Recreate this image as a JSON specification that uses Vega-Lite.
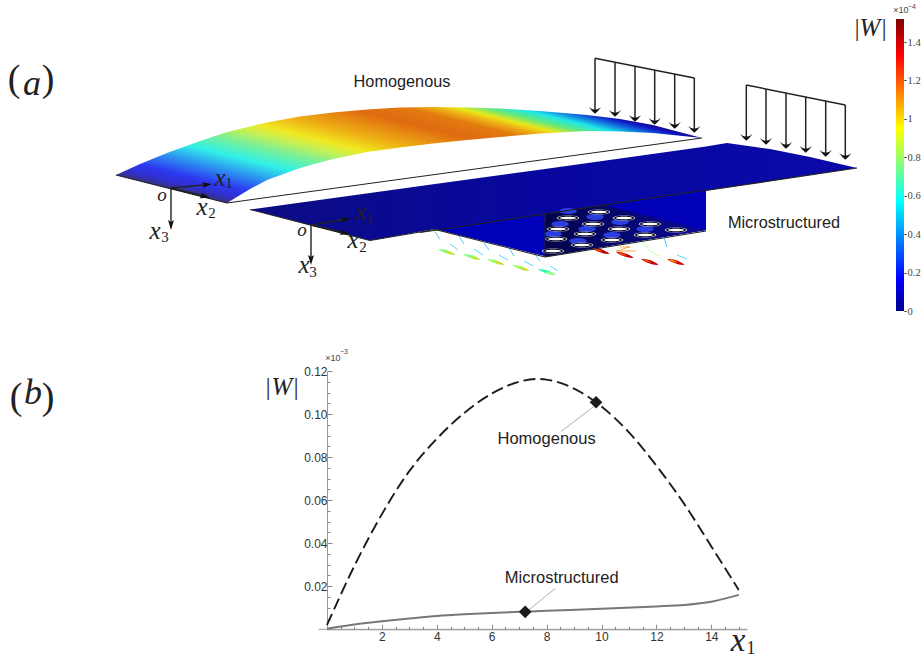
{
"$schema":"https://vega.github.io/schema/vega-lite/v6.json",
"width":921,"height":659,"padding":0,"autosize":{"type":"none"},"background":"white",
"config":{"view":{"stroke":null},"axis":{"grid":false},"text":{"font":"Liberation Sans"}},
"datasets":{
"homog":[{"x":116,"y":175,"y2":175},{"x":140,"y":164,"y2":181},{"x":167,"y":153,"y2":188},{"x":200,"y":141,"y2":196},{"x":227,"y":132,"y2":203},{"x":250,"y":126.5,"y2":189},{"x":267,"y":122.5,"y2":180},{"x":300,"y":116.5,"y2":168},{"x":333,"y":112.5,"y2":159},{"x":367,"y":109.5,"y2":152},{"x":400,"y":107.5,"y2":147.5},{"x":433,"y":107,"y2":143.5},{"x":467,"y":107.5,"y2":140},{"x":500,"y":108.5,"y2":137},{"x":540,"y":111,"y2":133.5},{"x":587,"y":115,"y2":131},{"x":620,"y":119,"y2":131.5},{"x":653,"y":125,"y2":133},{"x":702,"y":138,"y2":138}],
"micro":[{"x":250,"y":209.5,"y2":209.5},{"x":370,"y":193,"y2":240.5},{"x":435,"y":184,"y2":229},{"x":545,"y":169,"y2":256},{"x":706,"y":146.5,"y2":230},{"x":706.01,"y":146.5,"y2":190.5},{"x":727,"y":143,"y2":187.5},{"x":770,"y":149,"y2":181},{"x":810,"y":157,"y2":175},{"x":857,"y":168,"y2":168}],
"front":[{"x":435,"y":229,"y2":229},{"x":545,"y":213,"y2":256},{"x":706,"y":190,"y2":230}],
"cavity":[{"x":545,"y":214,"y2":257},{"x":603,"y":205,"y2":247},{"x":706,"y":230,"y2":230}],
"holesWhite":[{"x":599,"y":212},{"x":624,"y":218},{"x":650,"y":224},{"x":676,"y":230},{"x":568,"y":218},{"x":593,"y":224},{"x":619,"y":229},{"x":645,"y":235},{"x":558,"y":229},{"x":585,"y":234},{"x":612,"y":240},{"x":556,"y":239},{"x":582,"y":245},{"x":553,"y":251}],
"holesBlue":[{"x":568,"y":211},{"x":595,"y":217},{"x":620,"y":222},{"x":645,"y":229},{"x":560,"y":224},{"x":587,"y":229},{"x":612,"y":235},{"x":553,"y":234},{"x":578,"y":241}],
"drops":[{"x":447,"y":252,"w":0.78},{"x":472,"y":257,"w":0.78},{"x":496,"y":262,"w":0.8},{"x":521,"y":268,"w":0.8},{"x":547,"y":272,"w":0.7},{"x":601,"y":251,"w":1.35},{"x":625,"y":255,"w":1.35},{"x":650,"y":262,"w":1.35},{"x":676,"y":262,"w":1.3}],
"dropTips":[{"x":450,"y":253,"w":0.98},{"x":475,"y":258,"w":0.98},{"x":499,"y":263,"w":1},{"x":524,"y":269,"w":1},{"x":550,"y":273,"w":0.85},{"x":598,"y":250,"w":1.15},{"x":622,"y":254,"w":1.15},{"x":647,"y":261,"w":1.15},{"x":673,"y":261,"w":1.05}],
"curves":[{"id":"c1","w":0.45,"x":435,"y":231.7},{"id":"c1","w":0.45,"x":440,"y":239.3},{"id":"c1","w":0.5,"x":450,"y":244},{"id":"c1","w":0.5,"x":458,"y":250},{"id":"c2","w":0.45,"x":459,"y":236},{"id":"c2","w":0.45,"x":464,"y":244},{"id":"c2","w":0.5,"x":474,"y":249},{"id":"c2","w":0.5,"x":483,"y":255},{"id":"c3","w":0.45,"x":484,"y":243},{"id":"c3","w":0.45,"x":489,"y":250},{"id":"c3","w":0.5,"x":499,"y":255},{"id":"c3","w":0.5,"x":508,"y":260},{"id":"c4","w":0.45,"x":509,"y":248},{"id":"c4","w":0.45,"x":514,"y":256},{"id":"c4","w":0.5,"x":524,"y":261},{"id":"c4","w":0.5,"x":533,"y":266},{"id":"c5","w":0.45,"x":535,"y":254},{"id":"c5","w":0.45,"x":540,"y":261},{"id":"c5","w":0.5,"x":550,"y":266},{"id":"c5","w":0.5,"x":558,"y":271},{"id":"c6","w":0.45,"x":664,"y":238},{"id":"c6","w":0.45,"x":667,"y":247},{"id":"c6","w":0.5,"x":677,"y":255},{"id":"c6","w":0.5,"x":687,"y":259},{"id":"c7","w":0.8,"x":642,"y":242},{"id":"c7","w":0.8,"x":647,"y":248},{"id":"c7","w":0.8,"x":660,"y":256},{"id":"c8","w":1.1,"x":616,"y":251},{"id":"c8","w":1.1,"x":620,"y":247},{"id":"c8","w":1.1,"x":630,"y":247},{"id":"c8","w":1.1,"x":636,"y":251}],
"edges":[{"x":227,"y":203,"x2":702,"y2":138},{"x":116,"y":175,"x2":227,"y2":203},{"x":250,"y":209.5,"x2":370,"y2":240.5},{"x":706,"y":190.5,"x2":857,"y2":168},{"x":420,"y":232.5,"x2":706,"y2":190},{"x":370,"y":240.5,"x2":435,"y2":229.5},{"x":435,"y":229.5,"x2":545,"y2":257},{"x":545,"y":257,"x2":706,"y2":231},{"x":545,"y":214,"x2":545,"y2":257}],
"shafts":[{"x":595,"y":58.3,"x2":595,"y2":110},{"x":615,"y":62.3,"x2":615,"y2":113},{"x":635,"y":66,"x2":635,"y2":118},{"x":654.7,"y":70,"x2":654.7,"y2":121},{"x":674.7,"y":74,"x2":674.7,"y2":125},{"x":694.3,"y":78,"x2":694.3,"y2":129},{"x":595,"y":58.3,"x2":694.3,"y2":78},{"x":746.3,"y":85,"x2":746.3,"y2":137},{"x":766,"y":89,"x2":766,"y2":141},{"x":786,"y":93,"x2":786,"y2":145},{"x":805.7,"y":97,"x2":805.7,"y2":149},{"x":825.7,"y":101,"x2":825.7,"y2":153},{"x":845.3,"y":105,"x2":845.3,"y2":156},{"x":746.3,"y":85,"x2":845.3,"y2":105}],
"heads":[{"x":595,"y":110},{"x":615,"y":113},{"x":635,"y":118},{"x":654.7,"y":121},{"x":674.7,"y":125},{"x":694.3,"y":129},{"x":746.3,"y":137},{"x":766,"y":141},{"x":786,"y":145},{"x":805.7,"y":149},{"x":825.7,"y":153},{"x":845.3,"y":156}],
"axes3":[{"x":171,"y":188,"x2":208,"y2":184.5},{"x":171,"y":188,"x2":207,"y2":197},{"x":171,"y":188,"x2":171,"y2":225},{"x":311,"y":225,"x2":347,"y2":219},{"x":311,"y":225,"x2":346,"y2":233},{"x":311,"y":225,"x2":311,"y2":260}],
"headsX1":[{"x":207,"y":184.5},{"x":346,"y":219}],
"headsX2":[{"x":205,"y":196.5},{"x":345,"y":233}],
"headsX3":[{"x":171,"y":225},{"x":311,"y":260}],
"italicBig":[{"t":"a","x":32,"y":84},{"t":"b","x":33,"y":393}],
"uprightBig":[{"t":"(","x":14,"y":80},{"t":")","x":48,"y":80},{"t":"(","x":16,"y":398},{"t":")","x":48,"y":398}],
"italicMid":[{"t":"x","x":220,"y":178},{"t":"x","x":202,"y":207},{"t":"x","x":155,"y":231},{"t":"x","x":361,"y":212},{"t":"x","x":353,"y":240},{"t":"x","x":304,"y":265},{"t":"W","x":282,"y":387},{"t":"W","x":870,"y":28}],
"italicAxis":[{"t":"x","x":738,"y":641}],
"subAxis":[{"t":"1","x":751,"y":649}],
"italicSmall":[{"t":"o","x":162,"y":195},{"t":"o","x":302,"y":230}],
"subs":[{"t":"1","x":229,"y":183},{"t":"2","x":212,"y":213},{"t":"3","x":165,"y":237},{"t":"1","x":370,"y":218},{"t":"2","x":363,"y":247},{"t":"3","x":313,"y":272}],
"bars":[{"t":"|","x":268,"y":387},{"t":"|","x":296,"y":387},{"t":"|","x":857,"y":28},{"t":"|","x":884,"y":28}],
"labels":[{"t":"Homogenous","x":402,"y":82},{"t":"Microstructured","x":784,"y":223}],
"scale10":[{"t":"×10","x":333,"y":358},{"t":"×10","x":901,"y":10}],
"scaleExp":[{"t":"−3","x":344,"y":352},{"t":"−4","x":912,"y":7}],
"bar":[{"a":0,"b":1,"lo":0,"hi":1.52}],
"curveH":[{"x":0,"y":0.002},{"x":1,"y":0.0295},{"x":2,"y":0.0535},{"x":3,"y":0.0735},{"x":4,"y":0.0885},{"x":5,"y":0.1005},{"x":6,"y":0.1095},{"x":7,"y":0.115},{"x":7.65,"y":0.1163},{"x":8,"y":0.116},{"x":9,"y":0.1118},{"x":10,"y":0.1035},{"x":11,"y":0.0915},{"x":12,"y":0.076},{"x":13,"y":0.0585},{"x":14,"y":0.0385},{"x":15,"y":0.0183}],
"curveM":[{"x":0,"y":0.0003},{"x":1,"y":0.0022},{"x":2,"y":0.0037},{"x":3,"y":0.005},{"x":4,"y":0.0062},{"x":5,"y":0.007},{"x":6,"y":0.0076},{"x":7,"y":0.0081},{"x":8,"y":0.0086},{"x":10,"y":0.0095},{"x":12,"y":0.0106},{"x":13,"y":0.0113},{"x":14,"y":0.0128},{"x":15,"y":0.016}],
"diamonds":[{"x":9.8,"y":0.1055},{"x":7.22,"y":0.0081}],
"leaders":[{"x":9.71,"y":0.1034,"x2":8.52,"y2":0.0918},{"x":7.35,"y":0.009,"x2":8.32,"y2":0.019}],
"axisExt":[{"x":-0.3,"y":0,"x2":15.3,"y2":0}],
"chartLabels":[{"t":"Homogenous","x":8.0,"y":0.0884},{"t":"Microstructured","x":8.55,"y":0.0238}],
"dummy":[{"x":1,"y":0.01}]
},
"layer":[
{"encoding":{"x":{"field":"x","type":"quantitative","scale":{"domain":[0,921],"range":[0,921],"nice":false},"axis":null},"y":{"field":"y","type":"quantitative","scale":{"domain":[659,0],"range":[659,0],"nice":false,"zero":false},"axis":null}},
"layer":[
{"data":{"name":"homog"},"mark":{"type":"area","orient":"vertical","interpolate":"linear","fill":{"gradient":"linear","x1":0,"y1":0.71,"x2":0.878,"y2":0.134,"stops":[{"offset":0,"color":"#37307f"},{"offset":0.04,"color":"#3030d0"},{"offset":0.09,"color":"#2d38f0"},{"offset":0.17,"color":"#2c8cf0"},{"offset":0.26,"color":"#30f0e8"},{"offset":0.34,"color":"#70f0a0"},{"offset":0.42,"color":"#c8f050"},{"offset":0.47,"color":"#f0e820"},{"offset":0.55,"color":"#eeb015"},{"offset":0.68,"color":"#e06a10"},{"offset":0.76,"color":"#e27a10"},{"offset":0.8,"color":"#eeb015"},{"offset":0.83,"color":"#e8e818"},{"offset":0.87,"color":"#60e880"},{"offset":0.91,"color":"#20e8e8"},{"offset":0.95,"color":"#1070e0"},{"offset":0.985,"color":"#1010c0"},{"offset":1,"color":"#101090"}]}},"encoding":{"y2":{"field":"y2"}}},
{"data":{"name":"micro"},"mark":{"type":"area","orient":"vertical","interpolate":"linear","fill":{"gradient":"linear","x1":0,"y1":0,"x2":1,"y2":0,"stops":[{"offset":0,"color":"#0c0c84"},{"offset":0.5,"color":"#0707a0"},{"offset":1,"color":"#0a0aa8"}]}},"encoding":{"y2":{"field":"y2"}}},
{"data":{"name":"front"},"mark":{"type":"area","orient":"vertical","interpolate":"linear","fill":"#0000b8"},"encoding":{"y2":{"field":"y2"}}},
{"data":{"name":"cavity"},"mark":{"type":"area","orient":"vertical","interpolate":"linear","fill":{"gradient":"linear","x1":0,"y1":0,"x2":1,"y2":0,"stops":[{"offset":0,"color":"#03034a"},{"offset":1,"color":"#0a0a98"}]}},"encoding":{"y2":{"field":"y2"}}},
{"data":{"name":"holesBlue"},"mark":{"type":"point","filled":true,"color":"#2a3ee0","opacity":1,"shape":"M -1 0 C -1 -0.45 1 -0.45 1 0 C 1 0.45 -1 0.45 -1 0 Z","size":300}},
{"data":{"name":"holesWhite"},"mark":{"type":"point","filled":true,"fill":"#d8d8e4","opacity":1,"shape":"M -1 0 C -1 -0.3 1 -0.3 1 0 C 1 0.3 -1 0.3 -1 0 Z","size":500}},
{"data":{"name":"holesWhite"},"mark":{"type":"point","filled":true,"fill":"#0a0a20","opacity":1,"shape":"M -1 0 C -1 -0.3 1 -0.3 1 0 C 1 0.3 -1 0.3 -1 0 Z","size":400}},
{"data":{"name":"holesWhite"},"mark":{"type":"point","filled":true,"fill":"white","opacity":1,"shape":"M -1 0 C -1 -0.2 1 -0.2 1 0 C 1 0.2 -1 0.2 -1 0 Z","size":260}},
{"data":{"name":"curves"},"mark":{"type":"line","strokeWidth":0.9,"opacity":0.75,"interpolate":"monotone"},"encoding":{"order":{"field":"y"},"detail":{"field":"id"},"color":{"field":"w","type":"quantitative","legend":null,"scale":{"domain":[0,1.5],"range":["#00008f","#0000ff","#00ffff","#ffff00","#ff0000","#800000"]}}}},
{"data":{"name":"drops"},"mark":{"type":"point","filled":true,"opacity":1,"shape":"M -1 -0.32 C -0.4 -0.42 0.6 -0.02 1 0.32 C 0.4 0.42 -0.6 0.02 -1 -0.32 Z","size":300},"encoding":{"color":{"field":"w","type":"quantitative","legend":null}}},
{"data":{"name":"dropTips"},"mark":{"type":"point","filled":true,"opacity":1,"shape":"M -1 -0.32 C -0.4 -0.42 0.6 -0.02 1 0.32 C 0.4 0.42 -0.6 0.02 -1 -0.32 Z","size":90},"encoding":{"color":{"field":"w","type":"quantitative","legend":null}}},
{"data":{"name":"edges"},"mark":{"type":"rule","color":"#222","strokeWidth":1.1},"encoding":{"x2":{"field":"x2"},"y2":{"field":"y2"}}},
{"data":{"name":"shafts"},"mark":{"type":"rule","color":"#222","strokeWidth":1.5},"encoding":{"x2":{"field":"x2"},"y2":{"field":"y2"}}},
{"data":{"name":"heads"},"mark":{"type":"point","filled":true,"color":"#111","opacity":1,"shape":"M -1 -0.5 Q -0.6 0.1 0 0.6 Q 0.6 0.1 1 -0.5 Q 0.5 -0.05 0 -0.05 Q -0.5 -0.05 -1 -0.5 Z","size":150}},
{"data":{"name":"axes3"},"mark":{"type":"rule","color":"#222","strokeWidth":1.4},"encoding":{"x2":{"field":"x2"},"y2":{"field":"y2"}}},
{"data":{"name":"headsX1"},"mark":{"type":"point","filled":true,"color":"#111","opacity":1,"angle":-7,"shape":"M 1 0 L -1 -0.6 L -0.6 0 L -1 0.6 Z","size":100}},
{"data":{"name":"headsX2"},"mark":{"type":"point","filled":true,"color":"#111","opacity":1,"angle":14,"shape":"M 1 0 L -1 -0.6 L -0.6 0 L -1 0.6 Z","size":100}},
{"data":{"name":"headsX3"},"mark":{"type":"point","filled":true,"color":"#111","opacity":1,"angle":90,"shape":"M 1 0 L -1 -0.6 L -0.6 0 L -1 0.6 Z","size":100}},
{"data":{"name":"italicBig"},"mark":{"type":"text","font":"Liberation Serif","fontStyle":"italic","fontSize":36,"color":"#222","baseline":"middle"},"encoding":{"text":{"field":"t"}}},
{"data":{"name":"uprightBig"},"mark":{"type":"text","font":"Liberation Serif","fontSize":38,"fontWeight":300,"color":"#222","baseline":"middle"},"encoding":{"text":{"field":"t"}}},
{"data":{"name":"italicMid"},"mark":{"type":"text","font":"Liberation Serif","fontStyle":"italic","fontSize":25,"color":"#222","baseline":"middle"},"encoding":{"text":{"field":"t"}}},
{"data":{"name":"italicAxis"},"mark":{"type":"text","font":"Liberation Serif","fontStyle":"italic","fontSize":33,"color":"#222","baseline":"middle"},"encoding":{"text":{"field":"t"}}},
{"data":{"name":"subAxis"},"mark":{"type":"text","font":"Liberation Serif","fontSize":18,"color":"#222","baseline":"middle"},"encoding":{"text":{"field":"t"}}},
{"data":{"name":"italicSmall"},"mark":{"type":"text","font":"Liberation Serif","fontStyle":"italic","fontSize":19,"color":"#222","baseline":"middle"},"encoding":{"text":{"field":"t"}}},
{"data":{"name":"subs"},"mark":{"type":"text","font":"Liberation Serif","fontSize":15,"color":"#222","baseline":"middle"},"encoding":{"text":{"field":"t"}}},
{"data":{"name":"bars"},"mark":{"type":"text","font":"Liberation Serif","fontSize":26,"color":"#333","baseline":"middle"},"encoding":{"text":{"field":"t"}}},
{"data":{"name":"labels"},"mark":{"type":"text","font":"Liberation Sans","fontSize":16.3,"color":"#222","baseline":"middle"},"encoding":{"text":{"field":"t"}}},
{"data":{"name":"scale10"},"mark":{"type":"text","font":"Liberation Sans","fontSize":9,"color":"#444","baseline":"middle"},"encoding":{"text":{"field":"t"}}},
{"data":{"name":"scaleExp"},"mark":{"type":"text","font":"Liberation Sans","fontSize":7,"color":"#444","baseline":"middle"},"encoding":{"text":{"field":"t"}}}
]},
{"data":{"name":"bar"},"mark":{"type":"rect","fill":{"gradient":"linear","x1":0,"y1":1,"x2":0,"y2":0,"stops":[{"offset":0,"color":"#00008f"},{"offset":0.11,"color":"#0000ff"},{"offset":0.375,"color":"#00ffff"},{"offset":0.625,"color":"#ffff00"},{"offset":0.875,"color":"#ff0000"},{"offset":1,"color":"#800000"}]}},
"encoding":{"x":{"field":"a","type":"quantitative","scale":{"domain":[0,1],"range":[896,904],"nice":false},"axis":null},"x2":{"field":"b"},"y":{"field":"lo","type":"quantitative","scale":{"domain":[0,1.52],"range":[311,19],"nice":false},"axis":{"orient":"right","offset":-17,"values":[0,0.2,0.4,0.6,0.8,1,1.2,1.4],"labelExpr":"datum.value","title":null,"domain":false,"tickSize":2,"tickColor":"#222","labelFont":"Liberation Serif","labelFontSize":10.5,"labelColor":"#444","labelPadding":1}},"y2":{"field":"hi"}}},
{"encoding":{"x":{"field":"x","type":"quantitative","scale":{"domain":[0,15.3],"range":[327,747],"nice":false},"axis":{"orient":"bottom","offset":-29.7,"values":[2,4,6,8,10,12,14],"format":"d","title":null,"domainColor":"#999","tickColor":"#888","tickSize":-5,"labelFont":"Liberation Sans","labelFontSize":12,"labelColor":"#333","labelPadding":7}},"y":{"field":"y","type":"quantitative","scale":{"domain":[0,0.12],"range":[629.3,371],"nice":false},"axis":{"orient":"left","offset":-327,"values":[0.02,0.04,0.06,0.08,0.1,0.12],"format":".2f","title":null,"domainColor":"#999","tickColor":"#888","tickSize":-5,"labelFont":"Liberation Sans","labelFontSize":12,"labelColor":"#333","labelPadding":5}}},
"layer":[
{"data":{"name":"axisExt"},"mark":{"type":"rule","color":"#999","strokeWidth":1},"encoding":{"x2":{"field":"x2"},"y2":{"field":"y2"}}},
{"data":{"name":"curveH"},"mark":{"type":"line","color":"#1c1c1c","strokeWidth":1.9,"strokeDash":[12,5],"interpolate":"monotone"}},
{"data":{"name":"curveM"},"mark":{"type":"line","color":"#777","strokeWidth":2,"interpolate":"monotone"}},
{"data":{"name":"leaders"},"mark":{"type":"rule","color":"#999","strokeWidth":0.8},"encoding":{"x2":{"field":"x2"},"y2":{"field":"y2"}}},
{"data":{"name":"diamonds"},"mark":{"type":"point","filled":true,"shape":"M 0 -1 L 1 0 L 0 1 L -1 0 Z","color":"#1a1a1a","opacity":1,"size":160}},
{"data":{"name":"chartLabels"},"mark":{"type":"text","font":"Liberation Sans","fontSize":16.5,"color":"#222","baseline":"middle"},"encoding":{"text":{"field":"t"}}}
]},
{"data":{"name":"dummy"},"mark":{"type":"point","opacity":0},
"encoding":{"x":{"field":"x","type":"quantitative","scale":{"domain":[0,15.3],"range":[327,747],"nice":false},"axis":{"orient":"bottom","offset":-29.7,"values":[0.5,1,1.5,2.5,3,3.5,4.5,5,5.5,6.5,7,7.5,8.5,9,9.5,10.5,11,11.5,12.5,13,13.5,14.5,15],"labels":false,"domain":false,"title":null,"tickColor":"#888","tickSize":-3}},"y":{"field":"y","type":"quantitative","scale":{"domain":[0,0.12],"range":[629.3,371],"nice":false},"axis":{"orient":"left","offset":-327,"values":[0.005,0.01,0.015,0.025,0.03,0.035,0.045,0.05,0.055,0.065,0.07,0.075,0.085,0.09,0.095,0.105,0.11,0.115],"labels":false,"domain":false,"title":null,"tickColor":"#888","tickSize":-3}}}}
],
"resolve":{"scale":{"x":"independent","y":"independent"},"axis":{"x":"independent","y":"independent"}}
}
